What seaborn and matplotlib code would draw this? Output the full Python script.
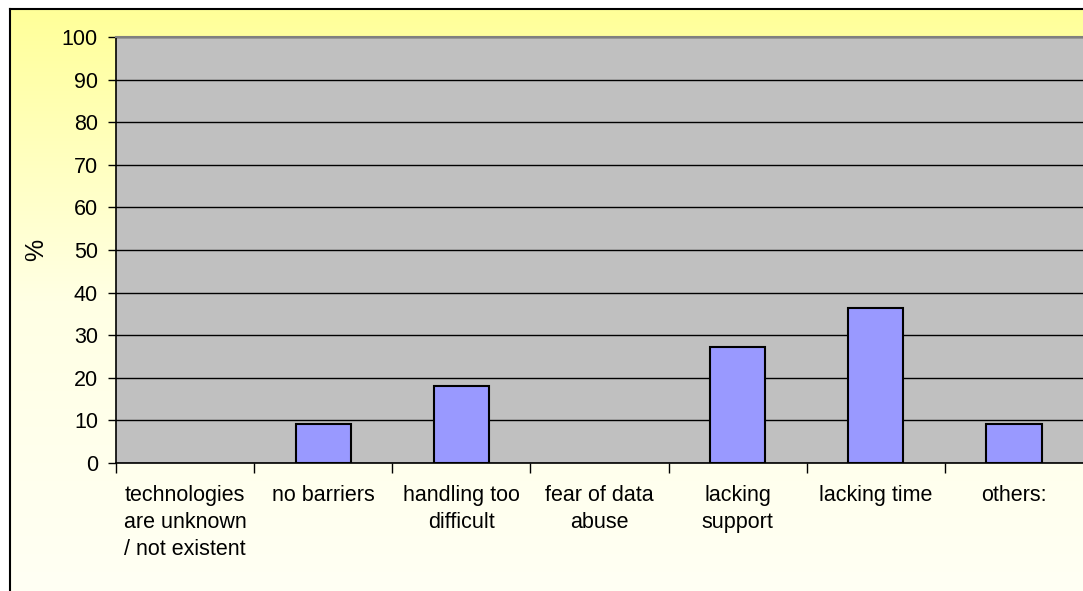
import numpy as np
import matplotlib
matplotlib.use("Agg")
import matplotlib.pyplot as plt
import seaborn as sns
from matplotlib.colors import LinearSegmentedColormap

# Survey results: barriers to using the technologies (percent of respondents)
categories = [
    "technologies\nare unknown\n/ not existent",
    "no barriers",
    "handling too\ndifficult",
    "fear of data\nabuse",
    "lacking\nsupport",
    "lacking time",
    "others:",
]
percent = [0.0, 9.09, 18.18, 0.0, 27.27, 36.36, 9.09]
y_ticks = list(range(0, 101, 10))
y_label = "%"

sns.set_theme(style="white")
plt.rcParams["font.family"] = ["Liberation Sans", "DejaVu Sans"]
plt.rcParams["text.color"] = "black"
plt.rcParams["xtick.color"] = "black"
plt.rcParams["ytick.color"] = "black"
plt.rcParams["axes.labelcolor"] = "black"

W, H = 1083, 591
FS = 15.5
fig = plt.figure(figsize=(W / 100, H / 100), dpi=100)
fig.patch.set_facecolor("white")

# Chart area with a soft yellow gradient and a black frame
bg = fig.add_axes([10 / W, 0, 1 - 10 / W, (H - 9) / H])
grad = np.linspace(0, 1, 256).reshape(-1, 1)
cmap = LinearSegmentedColormap.from_list("bg", ["#FFFF99", "#FFFFE4", "#FFFFF4"])
bg.imshow(grad, aspect="auto", cmap=cmap, extent=[0, 1, 0, 1], origin="upper")
bg.set_xticks([])
bg.set_yticks([])
for side in ("right", "bottom"):
    bg.spines[side].set_visible(False)
for side in ("left", "top"):
    bg.spines[side].set_color("black")
    bg.spines[side].set_linewidth(1.5)

# Plot area
ax = fig.add_axes([116 / W, 128 / H, 1 - 116 / W, 426 / H])
ax.set_facecolor("#C0C0C0")
sns.barplot(
    x=categories, y=percent, color="#9999FF", saturation=1,
    edgecolor="black", linewidth=1.5, width=0.4, ax=ax,
)
# empty categories draw no outline
for patch in ax.patches:
    if patch.get_height() == 0:
        patch.set_linewidth(0)

ax.set_xlim(-0.5, len(categories) - 0.5)
ax.set_ylim(0, 100)
ax.set_axisbelow(True)
ax.yaxis.grid(True, color="black", linewidth=1)

ax.set_yticks(y_ticks)
ax.tick_params(axis="y", direction="out", length=6, width=1, color="black",
               pad=7, labelsize=FS, left=True)
ax.set_xticks(range(len(categories)))
ax.set_xticklabels(categories, fontsize=FS, linespacing=1.38, va="top")
ax.tick_params(axis="x", which="major", length=0, pad=16)
ax.set_xticks(np.arange(-0.5, len(categories) - 0.5, 1.0), minor=True)
ax.tick_params(axis="x", which="minor", direction="out", length=7, width=1,
               color="black", bottom=True)

ax.set_xlabel("")
ax.set_ylabel(y_label, fontsize=18)
ax.yaxis.set_label_coords((48 - 116) / (W - 116), 0.5)

for side in ("left", "bottom"):
    ax.spines[side].set_color("black")
    ax.spines[side].set_linewidth(1.2)
ax.spines["top"].set_color("#808080")
ax.spines["top"].set_linewidth(1.5)
ax.spines["right"].set_visible(False)

fig.savefig("out.png", dpi=100)
